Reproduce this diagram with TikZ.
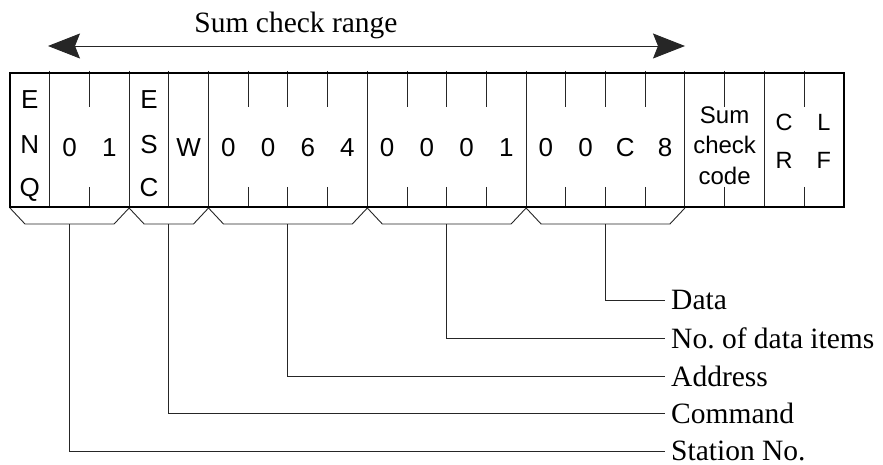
\documentclass[tikz,border=0pt]{standalone}
\usepackage{fontspec}
\setmainfont{Liberation Serif}
\newfontfamily\cellfont{Liberation Sans}
\usetikzlibrary{arrows.meta}
\begin{document}
\begin{tikzpicture}[x=1pt,y=-1pt,
  thinline/.style={draw=black!85,line width=0.9pt},
  frameline/.style={draw=black,line width=1.6pt},
  celltxt/.style={font=\cellfont\fontsize{26}{28}\selectfont,inner sep=0pt,anchor=base},
  smalltxt/.style={font=\cellfont\fontsize{24}{26}\selectfont,inner sep=0pt,anchor=base},
  crtxt/.style={font=\cellfont\fontsize{23.5}{26}\selectfont,inner sep=0pt,anchor=base},
  labeltxt/.style={font=\fontsize{29.5}{32}\selectfont,inner xsep=6pt,inner ysep=0pt,anchor=west},
  rangearrow/.style={thinline,>={Stealth[length=32pt,width=25pt,inset=5pt]},<->}]
\useasboundingbox (0,0) rectangle (883,465);
% title and range arrow
\node[font=\fontsize{29.5}{32}\selectfont,inner sep=0pt,anchor=base] (title) at (296,33) {Sum check range};
\coordinate (rl) at (48,46);
\coordinate (rr) at (685,46);
\draw[rangearrow] (rl) -- (rr);
% full internal lines
\foreach \k in {1,3,4,5,9,13,17,19}
  \draw[thinline] ({10+\k*39.7},71) -- ({10+\k*39.7},207);
% ticks
\foreach \k in {2,6,7,8,10,11,12,14,15,16,18,20}{
  \draw[thinline] ({10+\k*39.7},71) -- ({10+\k*39.7},107);
  \draw[thinline] ({10+\k*39.7},187) -- ({10+\k*39.7},207);
}
% frame
\draw[frameline] (10,73) rectangle (843.7,207);
\draw[draw=black,line width=2.8pt] (10,207) -- (843.7,207);
% cell texts
\foreach \l/\y [count=\n] in {E/109,N/154,Q/196.5}
  \node[celltxt] (enq\n) at ({10+0.5*39.7},\y) {\l};
\foreach \l/\y [count=\n] in {E/109,S/154,C/196.5}
  \node[celltxt] (esc\n) at ({10+3.5*39.7},\y) {\l};
\foreach \c/\t [count=\n] in {1/0,2/1,4/W,5/0,6/0,7/6,8/4,9/0,10/0,11/0,12/1,13/0,14/0,15/C,16/8}
  \node[celltxt] (d\n) at ({10+(\c+0.5)*39.7},157) {\t};
\foreach \w/\y [count=\n] in {Sum/123.5,check/154,code/184.5}
  \node[smalltxt] (sc\n) at ({10+18*39.7},\y) {\w};
\node[crtxt] (cr1) at ({10+19.5*39.7},131) {C};
\node[crtxt] (cr2) at ({10+19.5*39.7},169) {R};
\node[crtxt] (lf1) at ({10+20.5*39.7},131) {L};
\node[crtxt] (lf2) at ({10+20.5*39.7},169) {F};
% brackets and leader lines
\foreach \a/\b/\y/\name/\txt in {0/3/451/st/Station No.,3/5/413/cm/Command,5/9/376/ad/Address,9/13/338/nd/No.\ of data items,13/17/300/da/Data}{
  \draw[thinline] ({10+\a*39.7},208) -- ({10+\a*39.7+15},224) -- ({10+\b*39.7-15},224) -- ({10+\b*39.7},208);
  \coordinate (b\name) at ({10+(\a+\b)*39.7/2},224);
  \node[labeltxt] (l\name) at (665,\y) {\txt};
  \draw[thinline] (b\name) |- (l\name.west);
}
\end{tikzpicture}
\end{document}
